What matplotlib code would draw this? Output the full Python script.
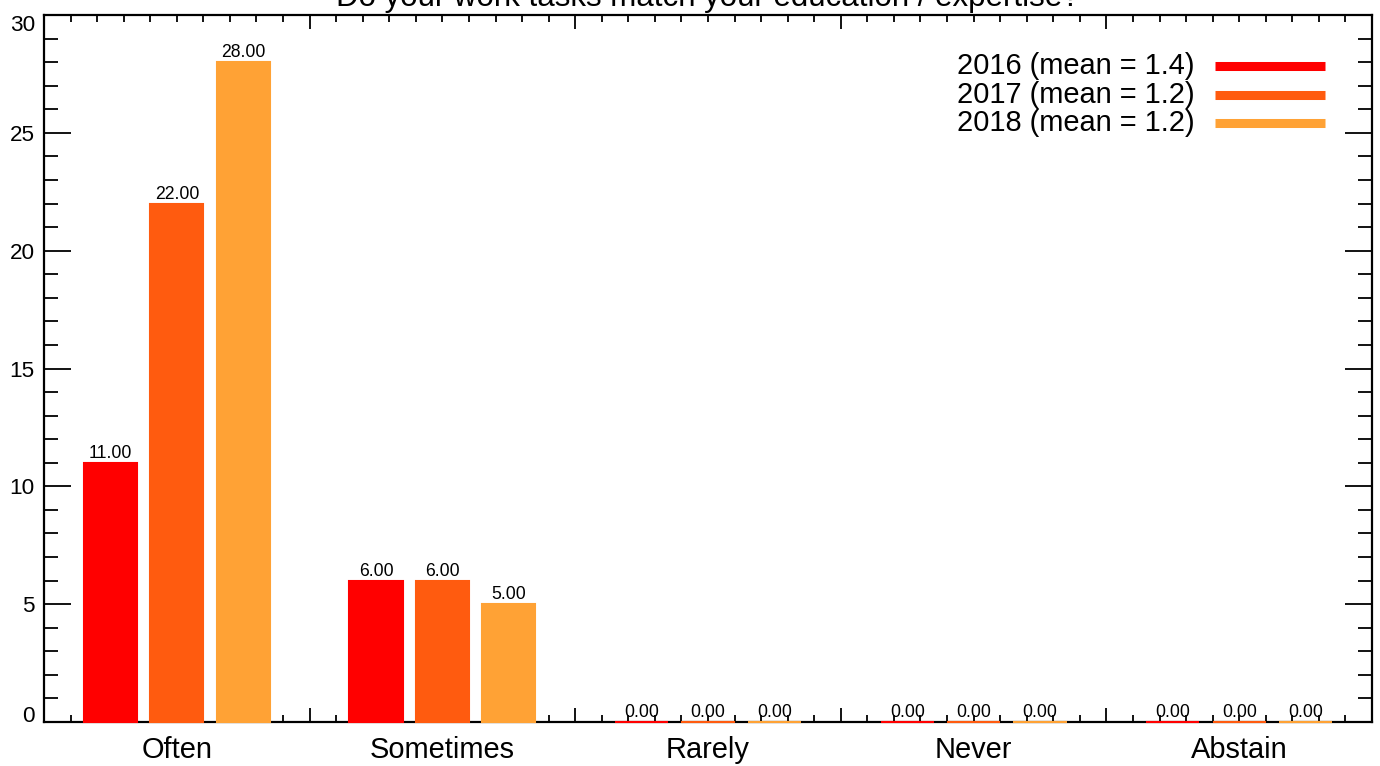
import numpy as np
import matplotlib
matplotlib.use("Agg")
import matplotlib.pyplot as plt
from matplotlib.ticker import MultipleLocator

plt.rcParams['font.family'] = ['Liberation Sans', 'DejaVu Sans']

# 数据
title = 'Do your work tasks match your education / expertise?'
categories = ['Often', 'Sometimes', 'Rarely', 'Never', 'Abstain']
years = ['2016', '2017', '2018']
means = [1.4, 1.2, 1.2]
counts_2016 = [11, 6, 0, 0, 0]
counts_2017 = [22, 6, 0, 0, 0]
counts_2018 = [28, 5, 0, 0, 0]
y_ticks = [0, 5, 10, 15, 20, 25, 30]
colors = ['#ff0000', '#ff5b0f', '#ffa235']

series = [counts_2016, counts_2017, counts_2018]

fig = plt.figure(figsize=(13.8, 7.66), dpi=100)
ax = fig.add_axes([0.0319, 0.0574, 0.9623, 0.9230])

bar_w = 0.2
offsets = [0.25, 0.5, 0.75]
x = np.arange(len(categories))
for vals, off, c in zip(series, offsets, colors):
    # zorder 高于坐标轴，使高度为0的柱子以彩色细线盖在x轴上
    bars = ax.bar(x + off, vals, width=bar_w, color=c, edgecolor=c,
                  linewidth=1.5, zorder=3, clip_on=False)
    for b, v in zip(bars, vals):
        ax.annotate('%.2f' % v, (b.get_x() + b.get_width() / 2, v),
                    xytext=(0, 3.6), textcoords='offset points',
                    ha='center', va='baseline', fontsize=12.7, zorder=4)

ax.set_xlim(0, len(categories))
ax.set_ylim(y_ticks[0], y_ticks[-1])
ax.xaxis.set_major_locator(MultipleLocator(1))
ax.xaxis.set_minor_locator(MultipleLocator(0.1))
ax.set_yticks(y_ticks)
ax.yaxis.set_minor_locator(MultipleLocator(1))
ax.set_xticklabels([])

# IDL风格刻度：朝内，四边都有
ax.tick_params(axis='both', which='both', direction='in', top=True, right=True,
               width=1.3, color='black')
ax.tick_params(axis='x', which='major', length=10)
ax.tick_params(axis='x', which='minor', length=5)
ax.tick_params(axis='y', which='major', length=19.4, labelsize=16.2, pad=6.5)
ax.tick_params(axis='y', which='minor', length=10)
for s in ax.spines.values():
    s.set_linewidth(1.6)

ylabels = ax.get_yticklabels()
ylabels[0].set_va('baseline')
ylabels[-1].set_va('top')

# 类别标签
trans = ax.get_xaxis_transform()
for i, name in enumerate(categories):
    ax.text(i + 0.5, -0.0509, name, transform=trans, ha='center',
            va='baseline', fontsize=20.9)

# 图例（手动绘制）
for i, (yr, m, c) in enumerate(zip(years, means, colors)):
    yy = 0.928 - i * 0.0405
    ax.text(0.8667, yy, '%s (mean = %.1f)' % (yr, m), transform=ax.transAxes,
            ha='right', va='center', fontsize=20.9)
    ax.plot([0.8818, 0.9646], [yy, yy], transform=ax.transAxes, color=c,
            lw=6.5, solid_capstyle='butt')

fig.text(0.5127, 0.992, title, ha='center', va='baseline', fontsize=22.5)

fig.savefig('out.png', dpi=100)
